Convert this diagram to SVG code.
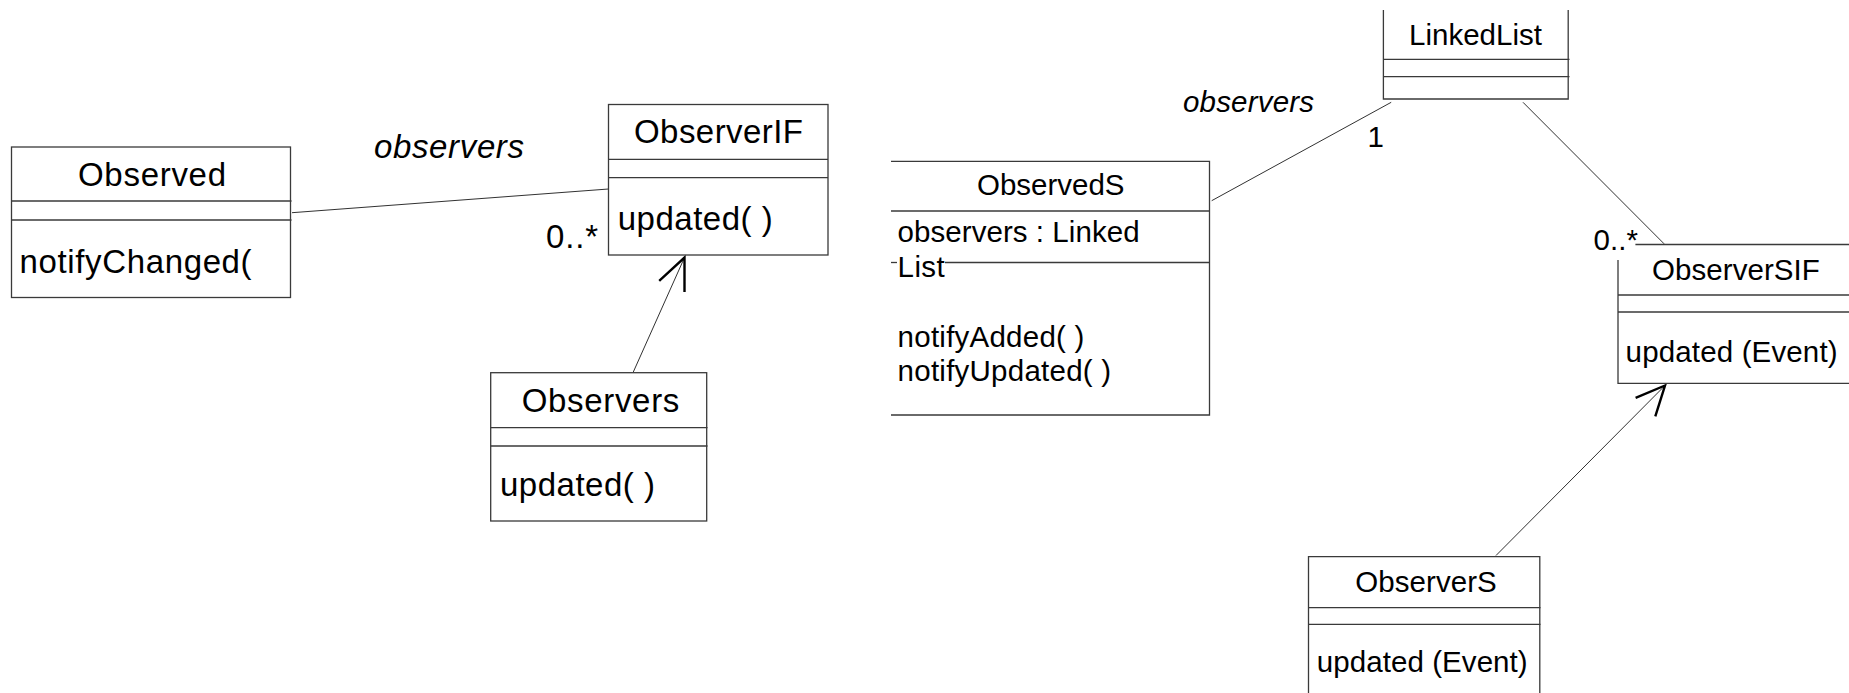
<svg xmlns="http://www.w3.org/2000/svg" width="1849" height="693" viewBox="0 0 1849 693">
<style>
.box{fill:none;stroke:#3a3a3a;stroke-width:1.3}
.conn{fill:none;stroke:#1a1a1a;stroke-width:0.9}
.head{fill:none;stroke:#000;stroke-width:2.4;stroke-linejoin:miter}
.t{font-family:"Liberation Sans",Arial,sans-serif;fill:#000}
.l{font-size:33px}
.r{font-size:29.5px}
.i{font-style:italic}
</style>
<rect width="1849" height="693" fill="#fff"/>
<g id="connectors">
  <line class="conn" x1="292" y1="212.7" x2="608.5" y2="189"/>
  <line class="conn" x1="633.3" y1="372" x2="684.5" y2="257.5"/>
  <polyline class="head" points="659.2,280.8 684.5,257.5 684.5,292"/>
  <line class="conn" x1="1211.7" y1="200.7" x2="1391.2" y2="102.3"/>
  <line class="conn" x1="1523" y1="102.3" x2="1664.1" y2="243.8"/>
  <line class="conn" x1="1496" y1="555.5" x2="1665" y2="385.5"/>
  <polyline class="head" points="1635.6,397.8 1665,385.5 1655.3,416.3"/>
  <text class="t l i" x="374" y="158" textLength="150" lengthAdjust="spacing">observers</text>
  <text class="t l" x="546" y="248.3" textLength="52" lengthAdjust="spacing">0..*</text>
  <text class="t r i" x="1183" y="111.7" textLength="131" lengthAdjust="spacing">observers</text>
  <text class="t r" x="1367.5" y="146.7">1</text>
  <text class="t r" x="1593.4" y="250" textLength="44.5" lengthAdjust="spacing">0..*</text>
</g>
<g id="node-observed">
  <rect class="box" x="11.5" y="147" width="279" height="150.5"/>
  <line class="box" x1="11.5" y1="201" x2="291.5" y2="201"/>
  <line class="box" x1="11.5" y1="220" x2="291.5" y2="220"/>
  <text class="t l" x="78" y="186" textLength="148" lengthAdjust="spacing">Observed</text>
  <text class="t l" x="19.6" y="273" textLength="232" lengthAdjust="spacing">notifyChanged(</text>
</g>
<g id="node-observerif">
  <rect class="box" x="608.5" y="104.5" width="219.5" height="150.5"/>
  <line class="box" x1="608.5" y1="159.3" x2="828" y2="159.3"/>
  <line class="box" x1="608.5" y1="177.7" x2="828" y2="177.7"/>
  <text class="t l" x="634" y="143" textLength="169" lengthAdjust="spacing">ObserverIF</text>
  <text class="t l" x="617.7" y="229.5" textLength="155" lengthAdjust="spacing">updated( )</text>
</g>
<g id="node-observers">
  <rect class="box" x="490.7" y="372.7" width="216" height="148.3"/>
  <line class="box" x1="490.7" y1="427.7" x2="707.5" y2="427.7"/>
  <line class="box" x1="490.7" y1="446" x2="707.5" y2="446"/>
  <text class="t l" x="521.7" y="412" textLength="157.6" lengthAdjust="spacing">Observers</text>
  <text class="t l" x="500" y="496" textLength="155" lengthAdjust="spacing">updated( )</text>
</g>
<g id="node-observeds">
  <polyline class="box" points="891,161.3 1209.5,161.3 1209.5,415 891,415"/>
  <line class="box" x1="891" y1="211" x2="1210" y2="211"/>
  <line class="box" x1="891" y1="262.5" x2="897" y2="262.5"/>
  <line class="box" x1="945" y1="262.5" x2="1210" y2="262.5"/>
  <text class="t r" x="977" y="195" textLength="147.5" lengthAdjust="spacing">ObservedS</text>
  <text class="t r" x="897.6" y="241.7" textLength="242" lengthAdjust="spacing">observers : Linked</text>
  <text class="t r" x="897.6" y="276.5" textLength="47" lengthAdjust="spacing">List</text>
  <text class="t r" x="897.6" y="346.5" textLength="186.8" lengthAdjust="spacing">notifyAdded( )</text>
  <text class="t r" x="897.6" y="381" textLength="213.5" lengthAdjust="spacing">notifyUpdated( )</text>
</g>
<g id="node-linkedlist">
  <polyline class="box" points="1383.4,10 1383.4,99 1568.2,99 1568.2,10"/>
  <line class="box" x1="1383.4" y1="59.3" x2="1569.5" y2="59.3"/>
  <line class="box" x1="1383.4" y1="76.7" x2="1569.5" y2="76.7"/>
  <text class="t r" x="1409" y="45" textLength="133" lengthAdjust="spacing">LinkedList</text>
</g>
<g id="node-observersif">
  <line class="box" x1="1635.4" y1="244.5" x2="1849" y2="244.5"/>
  <polyline class="box" points="1618,260 1618,383.3 1849,383.3"/>
  <line class="box" x1="1618" y1="295" x2="1849" y2="295"/>
  <line class="box" x1="1618" y1="312" x2="1849" y2="312"/>
  <text class="t r" x="1651.9" y="280" textLength="168" lengthAdjust="spacing">ObserverSIF</text>
  <text class="t r" x="1625.6" y="361.7" textLength="212" lengthAdjust="spacing">updated (Event)</text>
</g>
<g id="node-observerss">
  <polyline class="box" points="1308.5,700 1308.5,556.7 1539.8,556.7 1539.8,700"/>
  <line class="box" x1="1308.5" y1="607.7" x2="1540.5" y2="607.7"/>
  <line class="box" x1="1308.5" y1="624.3" x2="1540.5" y2="624.3"/>
  <text class="t r" x="1355.2" y="591.7" textLength="141.6" lengthAdjust="spacing">ObserverS</text>
  <text class="t r" x="1316.7" y="671.7" textLength="211" lengthAdjust="spacing">updated (Event)</text>
</g>
</svg>
